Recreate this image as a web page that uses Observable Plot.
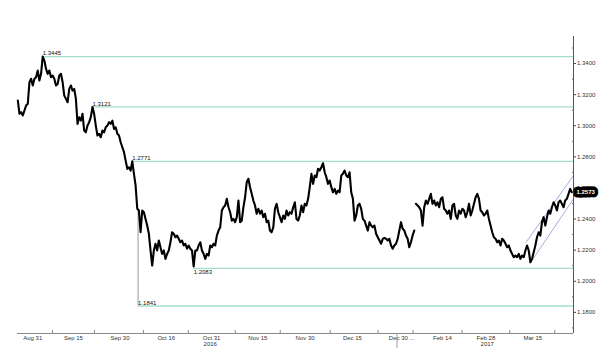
<!DOCTYPE html>
<html><head><meta charset="utf-8">
<script src="https://cdn.jsdelivr.net/npm/d3@7"></script>
<script src="https://cdn.jsdelivr.net/npm/@observablehq/plot@0.6"></script>
<style>body{margin:0;background:#fff}#chart svg{display:block}</style>
</head><body><div id="chart"></div>
<script>
// Closing prices, one per bar (2016 session, then 2017 session)
const closes2016 = [
1.3162,1.3077,1.3087,1.3066,1.3098,1.3130,1.3141,1.3280,1.3302,1.3259,
1.3302,1.3312,1.3355,1.3291,1.3334,1.3445,1.3419,1.3366,1.3334,1.3355,
1.3312,1.3323,1.3302,1.3259,1.3269,1.3323,1.3334,1.3280,1.3194,1.3173,
1.3151,1.3237,1.3259,1.3226,1.3237,1.3173,1.3012,1.3055,1.3033,1.3077,
1.2969,1.2958,1.3001,1.3023,1.3055,1.3121,1.3077,1.3001,1.2937,1.2948,
1.2926,1.2969,1.2958,1.2990,1.3001,1.3023,1.3012,1.3033,1.2980,1.2990,
1.2948,1.2937,1.2894,1.2862,1.2830,1.2776,1.2723,1.2733,1.2712,1.2771,
1.2691,1.2616,1.2466,
1.2455,1.2315,1.2455,1.2444,1.2401,1.2358,1.2305,1.2198,1.2101,1.2198,
1.2241,1.2198,1.2262,1.2219,1.2176,1.2198,1.2144,1.2176,1.2198,1.2251,
1.2315,1.2305,1.2283,1.2294,1.2273,1.2251,1.2262,1.2230,1.2241,1.2209,
1.2230,1.2209,1.2198,1.2095,1.2198,1.2198,1.2230,1.2251,1.2198,1.2176,
1.2144,1.2176,1.2165,1.2230,1.2219,1.2241,1.2230,1.2294,1.2326,1.2347,
1.2455,1.2476,1.2487,1.2530,1.2476,1.2444,1.2390,1.2401,1.2380,1.2412,
1.2519,1.2380,1.2390,1.2476,1.2540,1.2637,1.2659,1.2605,1.2562,1.2519,
1.2487,1.2434,1.2466,1.2434,1.2455,1.2412,1.2434,1.2380,1.2390,1.2326,
1.2315,1.2347,1.2466,1.2498,1.2444,1.2412,1.2380,1.2423,1.2401,1.2455,
1.2423,1.2444,1.2434,1.2476,1.2508,1.2401,1.2390,1.2423,1.2487,1.2444,
1.2498,1.2487,1.2530,1.2605,1.2691,1.2626,1.2680,1.2669,1.2723,1.2712,
1.2733,1.2759,1.2701,1.2669,1.2626,1.2648,1.2605,1.2572,1.2594,1.2562,
1.2583,1.2572,1.2680,1.2691,1.2712,1.2680,1.2669,1.2701,1.2572,1.2530,
1.2390,1.2423,1.2487,1.2498,1.2466,1.2401,1.2390,1.2358,1.2326,1.2380,
1.2358,1.2347,1.2358,1.2305,1.2283,1.2262,1.2241,1.2273,1.2279,1.2273,
1.2262,1.2273,1.2230,1.2209,1.2230,1.2241,1.2273,1.2326,1.2380,1.2337,
1.2326,1.2294,1.2273,1.2219,1.2251,1.2294,1.2326
];
const closes2017 = [
1.2498,1.2487,1.2476,1.2455,1.2358,1.2476,1.2519,1.2498,1.2530,1.2562,
1.2498,1.2519,1.2487,1.2508,1.2476,1.2530,1.2540,1.2466,1.2455,1.2434,
1.2455,1.2401,1.2487,1.2498,1.2423,1.2401,1.2455,1.2434,1.2466,1.2455,
1.2412,1.2444,1.2498,1.2423,1.2455,1.2498,1.2540,1.2562,1.2530,1.2455,
1.2444,1.2423,1.2434,1.2455,1.2401,1.2358,1.2315,1.2283,1.2273,1.2251,
1.2262,1.2230,1.2273,1.2262,1.2241,1.2219,1.2230,1.2198,1.2176,1.2155,
1.2165,1.2155,1.2176,1.2144,1.2165,1.2155,1.2198,1.2230,1.2198,1.2122,
1.2144,1.2187,1.2230,1.2283,1.2315,1.2294,1.2380,1.2412,1.2358,1.2412,
1.2455,1.2434,1.2476,1.2508,1.2487,1.2455,1.2508,1.2519,1.2498,1.2476,
1.2519,1.2530,1.2562,1.2594,1.2573
];

// Flash crash bar (bar position between two bars, low/high)
const crashBar = 72.5, crashLow = 1.1841, crashHigh = 1.2466;

// Horizontal support/resistance levels and the bar where each begins
const levelValues = [1.3445, 1.3121, 1.2771, 1.2083, 1.1841];
const levelStarts = [15, 45, 69, 106, 72.5];
const levelBelow  = [false, false, false, true, false];

// Rising channel (bar, price)
const channelUpperBars = [306.4, 335], channelUpperVals = [1.2251, 1.2680];
const channelLowerBars = [309.3, 335], channelLowerVals = [1.2122, 1.2530];

// X axis labels (bar positions)
const xLabels = ["Aug 31","Sep 15","Sep 30","Oct 16","Oct 31","Nov 15","Nov 30","Dec 15","Dec 30 ...","Feb 14","Feb 28","Mar 15"];
const xLabelBars = [9.0, 33.5, 61.6, 89.5, 116.8, 144.7, 173.2, 201.7, 231.4, 256.0, 282.2, 310.5];
const xTickBars = [20.9, 46.2, 75.7, 102.8, 131.1, 158.2, 188.3, 217.2, 238.3, 267.8, 296.6, 323.7];
const yearLabels = ["2016", "2017"];
const yearBars = [112.0, 279.0];
const yearSeparatorBar = 228.6;

// Y axis ticks
const yTicks = [1.18, 1.20, 1.22, 1.24, 1.26, 1.28, 1.30, 1.32, 1.34];
const yMinorTicks = [1.17, 1.19, 1.21, 1.23, 1.25, 1.27, 1.29, 1.31, 1.33, 1.35];
const lastPrice = 1.2573;

const xDomain = [-0.2, 335];
const yDomain = [1.1664, 1.3574];

const bars = [
  ...closes2016.map((v, i) => ({bar: i, v, seg: "2016"})),
  ...closes2017.map((v, k) => ({bar: closes2016.length + k, v, seg: "2017"}))
];
const levels = levelValues.map((v, i) => ({v, start: levelStarts[i], below: levelBelow[i]}));
const channels = [
  ...channelUpperBars.map((b, i) => ({bar: b, v: channelUpperVals[i], k: "u"})),
  ...channelLowerBars.map((b, i) => ({bar: b, v: channelLowerVals[i], k: "l"}))
];
const xl = xLabels.map((t, i) => ({t, bar: xLabelBars[i]}));
const yl = yearLabels.map((t, i) => ({t, bar: yearBars[i]}));
const fmt = d3.format(".4f");
const FONT = "'Liberation Sans', Arial, sans-serif";

const chart = Plot.plot({
  width: 600, height: 357,
  marginLeft: 17, marginRight: 27, marginTop: 36, marginBottom: 24,
  style: {fontFamily: FONT, fontSize: "6px", color: "#222", background: "#fff", overflow: "visible"},
  x: {domain: xDomain, axis: null, label: null},
  y: {domain: yDomain, axis: null, label: null},
  marks: [
    Plot.ruleY(levels, {y: "v", x1: "start", x2: xDomain[1], stroke: "#a3dfcb", strokeWidth: 1.3}),
    Plot.ruleX([crashBar], {y1: crashLow, y2: crashHigh, stroke: "#999", strokeWidth: 1}),
    Plot.line(channels, {x: "bar", y: "v", z: "k", stroke: "#9aa3dc", strokeWidth: 0.9}),
    Plot.line(bars, {x: "bar", y: "v", z: "seg", stroke: "#000", strokeWidth: 2.1, strokeLinejoin: "round"}),
    Plot.text(levels.filter(d => !d.below), {x: "start", y: "v", text: d => fmt(d.v), textAnchor: "start", dy: -3, fill: "#111"}),
    Plot.text(levels.filter(d => d.below), {x: "start", y: "v", text: d => fmt(d.v), textAnchor: "start", dy: 4, fill: "#111"}),
    // axis lines
    Plot.ruleY([yDomain[0]], {stroke: "#888", strokeWidth: 1}),
    Plot.ruleX([xDomain[1]], {stroke: "#555", strokeWidth: 1}),
    Plot.axisX(xTickBars, {tickSize: -3, tickFormat: () => "", stroke: "#888", label: null}),
    Plot.text(xl, {x: "bar", text: "t", frameAnchor: "bottom", lineAnchor: "top", dy: 2, fill: "#333"}),
    Plot.text(yl, {x: "bar", text: "t", frameAnchor: "bottom", textAnchor: "start", lineAnchor: "top", dy: 8.5, fill: "#333"}),
    Plot.ruleX([yearSeparatorBar], {y1: yDomain[0], y2: yDomain[0] - 0.0095, stroke: "#999"}),
    Plot.axisY(yTicks, {anchor: "right", tickSize: 2, tickPadding: 1.5, tickFormat: fmt, fill: "#333", stroke: "#444", label: null}),
    Plot.axisY(yMinorTicks, {anchor: "right", tickSize: -2, tickFormat: () => "", stroke: "#666", label: null}),
    Plot.text([lastPrice], {x: xDomain[1], y: d => d, text: d => fmt(d), textAnchor: "start", dx: 3, fill: "#fff", stroke: "#000", strokeWidth: 7, strokeLinejoin: "round", paintOrder: "stroke", fontWeight: "bold"})
  ]
});
document.getElementById("chart").appendChild(chart);
</script>
</body></html>
